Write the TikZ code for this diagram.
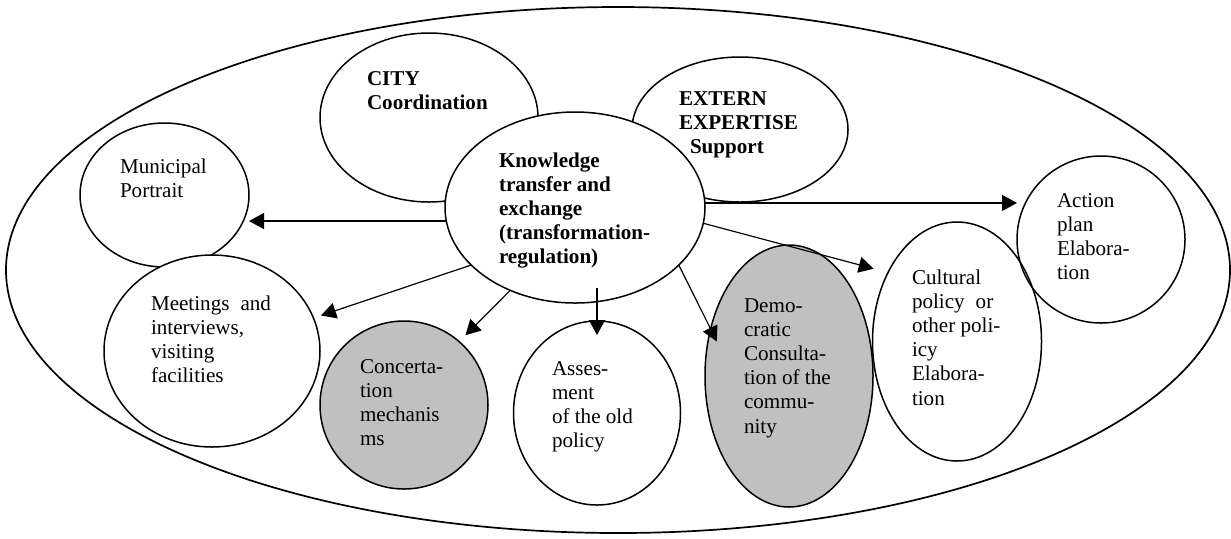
\documentclass[tikz,border=0pt]{standalone}
\usepackage{fontspec}
\setmainfont{Liberation Serif}
\usetikzlibrary{shapes.geometric,arrows.meta}
\definecolor{shade}{RGB}{192,192,192}
% left-aligned block of lines whose baseline is the first line's baseline
\newcommand{\txtcol}[1]{\parbox[t]{120pt}{\raggedright #1}}

\begin{document}
\begin{tikzpicture}[x=0.5pt,y=-0.5pt,
  bub/.style={ellipse,draw,line width=0.75pt,fill=white,inner sep=0pt,outer sep=0pt},
  grey/.style={fill=shade},
  hollow/.style={fill=none},
  arr/.style={-{Triangle[length=7.5pt,width=8pt]},line width=0.6pt},
  lbl/.style={anchor=base west,inner sep=0pt,outer sep=0pt,font=\fontsize{10.55}{12.1}\selectfont},
  lblb/.style={lbl,font=\fontsize{10.55}{12.1}\selectfont\bfseries}]
\useasboundingbox (0,0) rectangle (1231,538);

% enclosing ellipse
\node[bub,line width=0.85pt,minimum width=612pt,minimum height=263pt] (frame) at (618,270) {};

% bubbles
\node[bub,minimum width=84.5pt,minimum height=72pt]   (mun)   at (164.5,195) {};
\node[bub,minimum width=108pt,minimum height=96pt]    (meet)  at (212,351) {};
\node[bub,minimum width=109pt,minimum height=84.5pt]  (city)  at (429,117.5) {};
\node[bub,minimum width=108pt,minimum height=72.5pt]  (ext)   at (740,129.5) {};
\node[bub,minimum width=130pt,minimum height=95.5pt]  (know)  at (575,207.5) {};
\node[bub,grey,minimum width=84pt,minimum height=84pt] (conc) at (404,405) {};
\node[bub,minimum width=83.5pt,minimum height=92pt]   (asses) at (597,413) {};
\node[bub,grey,minimum width=84pt,minimum height=131pt] (demo) at (789,376) {};
\node[bub,hollow,minimum width=84.5pt,minimum height=119.5pt] (cult) at (957,341.5) {};
\node[bub,hollow,minimum width=84pt,minimum height=83.5pt]    (act)  at (1101,239.5) {};

% labels
\node[lbl]  (tmun)  at (120,173) {\txtcol{Municipal\\Portrait}};
\node[lblb] (tcity) at (367,85)  {\txtcol{CITY\\Coordination}};
\node[lblb] (text)  at (679,105) {\txtcol{EXTERN\\EXPERTISE\\\hspace*{5.5pt}Support}};
\node[lblb] (tknow) at (499,167) {\txtcol{Knowledge\\transfer and\\exchange\\(transformation-\\regulation)}};
\node[lbl]  (tmeet) at (151,310) {\txtcol{Meetings\hspace{0.52em}and\\interviews,\\visiting\\facilities}};
\node[lbl]  (tconc) at (360,373) {\txtcol{Concerta-\\tion\\mechanis\\ms}};
\node[lbl]  (tass)  at (552,375) {\txtcol{Asses-\\ment\\of the old\\policy}};
\node[lbl]  (tdemo) at (744,312) {\txtcol{Demo-\\cratic\\Consulta-\\tion of the\\commu-\\nity}};
\node[lbl]  (tcult) at (912,284) {\txtcol{Cultural\\policy\hspace{0.52em}or\\other poli-\\icy\\Elabora-\\tion}};
\node[lbl]  (tact)  at (1057,207) {\txtcol{Action\\plan\\Elabora-\\tion}};

% arrows out of the central bubble
\draw[arr] (know.186) -- (know.186 -| mun.east);
\draw[arr] (know.2) -- (know.2 -| act.west);
\draw[arr,shorten >=4pt] (know.209) -- (meet.18);
\draw[arr,shorten >=4.5pt] (know.232) -- (conc.49);
\coordinate (adrop) at (asses.north |- know.south);
\draw[arr] ([yshift=7.5pt]adrop) -- ([yshift=-7pt]asses.north);
\draw[arr,shorten >=-7pt] (know.-29) -- (demo.149);
\draw[arr,shorten >=7.4pt] (know.-7) -- (cult.135);
\end{tikzpicture}
\end{document}
